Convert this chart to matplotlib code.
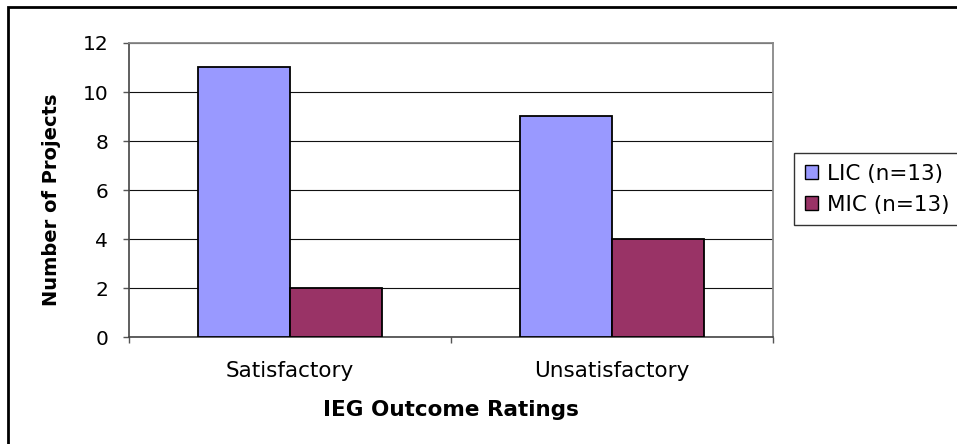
import matplotlib
matplotlib.use("Agg")
import matplotlib.pyplot as plt
import matplotlib.patches as mpatches
import numpy as np

# Data
categories = ["Satisfactory", "Unsatisfactory"]
lic_values = [11, 9]
mic_values = [2, 4]
series_labels = ["LIC (n=13)", "MIC (n=13)"]
y_ticks = [0, 2, 4, 6, 8, 10, 12]

W, H, DPI = 957, 444, 100
plt.rcParams["font.family"] = ["DejaVu Sans"]

fig = plt.figure(figsize=(W / DPI, H / DPI), dpi=DPI)
fig.patch.set_facecolor("white")

# Plot area in pixel coordinates
left, right, top, bottom = 129, 772.5, 43, 337
ax = fig.add_axes([left / W, 1 - bottom / H, (right - left) / W, (bottom - top) / H])

x = np.arange(len(categories))
bw = 1 / 3.5  # gap width 150%
ax.bar(x - bw / 2, lic_values, bw, color="#9999FF", edgecolor="black",
       linewidth=1.3, label=series_labels[0], zorder=3)
ax.bar(x + bw / 2, mic_values, bw, color="#993366", edgecolor="black",
       linewidth=1.3, label=series_labels[1], zorder=3)

ax.set_xlim(-0.5, len(categories) - 0.5)
ax.set_ylim(0, 12)
ax.set_yticks(y_ticks)
ax.set_yticklabels([str(v) for v in y_ticks])
ax.yaxis.grid(True, color="#111111", linewidth=0.8, zorder=1)
ax.set_axisbelow(True)

# Category ticks sit between groups; labels sit at group centres
ax.set_xticks(np.arange(-0.5, len(categories), 1.0))
ax.set_xticklabels([])
ax.set_xticks(x, minor=True)
ax.set_xticklabels(categories, minor=True)
ax.tick_params(axis="x", which="minor", length=0, pad=17, labelsize=15.5)
ax.tick_params(axis="x", which="major", direction="out", length=4.5,
               width=1.0, color="#555555")
ax.tick_params(axis="y", direction="out", length=4.5, width=1.0,
               color="#555555", pad=10.5, labelsize=14.5)

for side in ("left", "bottom"):
    ax.spines[side].set_color("#444444")
    ax.spines[side].set_linewidth(1.2)
for side in ("top", "right"):
    ax.spines[side].set_color("#888888")
    ax.spines[side].set_linewidth(1.3)

ax.set_xlabel("IEG Outcome Ratings", fontsize=15.5, fontweight="bold", labelpad=14)
fig.text(52 / W, 1 - 200 / H, "Number of Projects", rotation=90,
         ha="center", va="center", fontsize=14, fontweight="bold")

leg = fig.legend(loc="upper left", bbox_to_anchor=(794 / W, 1 - 153 / H),
                 fontsize=15.5, frameon=True, fancybox=False, shadow=False,
                 framealpha=1, edgecolor="#333333", borderpad=0.5,
                 handlelength=0.6, handleheight=0.6, handletextpad=0.45,
                 labelspacing=0.5, borderaxespad=0)
leg.get_frame().set_linewidth(1.0)
for h in leg.legend_handles:
    h.set_linewidth(1.0)

# Chart area border
fig.patches.append(mpatches.Rectangle((8 / W, -0.5), 2.0, 1.5 - 7 / H,
                                      transform=fig.transFigure, fill=False,
                                      edgecolor="black", linewidth=2.0))

fig.savefig("out.png", dpi=DPI)
